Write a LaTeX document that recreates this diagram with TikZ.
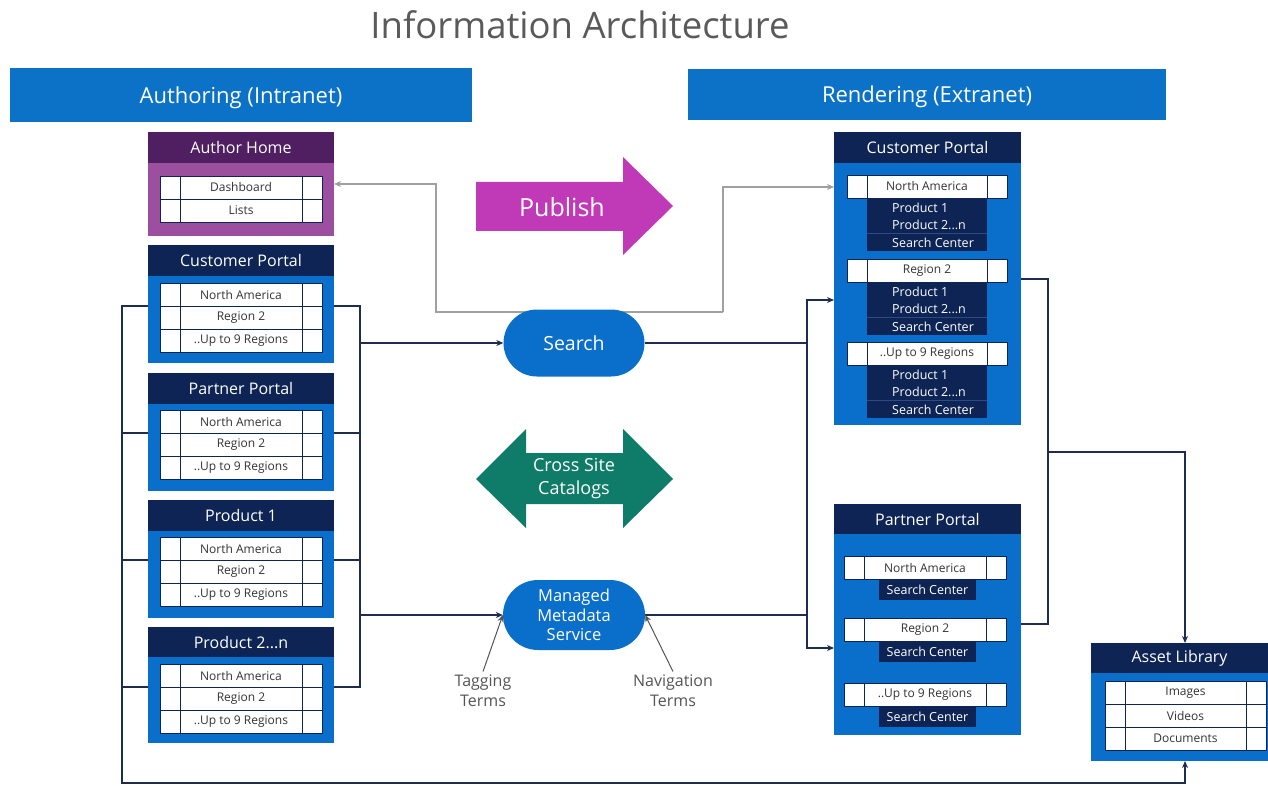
\documentclass[tikz,border=0pt]{standalone}
\usepackage{fontspec}
\setmainfont{Open Sans}
\usetikzlibrary{arrows.meta,shapes.misc,calc}
\definecolor{hdrblue}{HTML}{0B72C7}
\definecolor{boxblue}{HTML}{0A6FCA}
\definecolor{navy}{HTML}{0D2454}
\definecolor{purpleD}{HTML}{4F1F62}
\definecolor{purpleL}{HTML}{9C4E9F}
\definecolor{pubmag}{HTML}{C03AB8}
\definecolor{cstteal}{HTML}{0F7B69}
\definecolor{conncol}{HTML}{1E2D4F}
\definecolor{graycon}{HTML}{A0A0A0}
\definecolor{celltext}{HTML}{333333}
\definecolor{lbltext}{HTML}{555555}
\definecolor{titletext}{HTML}{5A5A5A}
\definecolor{subline}{HTML}{2C4A85}
\tikzset{
  hdr/.style={fill=hdrblue, text=white, inner sep=0, outer sep=0, text height=21pt, text depth=4pt, font=\fontsize{22}{26}\selectfont},
  ttl/.style={fill=navy, text=white, anchor=north west, inner sep=0, outer sep=0, minimum width=186, minimum height=31, font=\fontsize{16}{19}\selectfont},
  bdy/.style={fill=boxblue, anchor=north west, inner sep=0, outer sep=0, minimum width=186},
  cellside/.style={draw=navy, line width=0.9pt, fill=white, minimum width=20, minimum height=23, inner sep=0, outer sep=0, anchor=north west},
  cellmid/.style={cellside, text=celltext, font=\fontsize{12}{14}\selectfont},
  subblk/.style={fill=navy, anchor=north west, inner sep=0, outer sep=0},
  subtxt/.style={text=white, anchor=west, inner sep=0, font=\fontsize{12.5}{15}\selectfont},
  pill/.style={rounded rectangle, fill=boxblue, text=white, inner sep=2pt, align=center},
  conn/.style={draw=conncol, line width=1.1pt},
  gconn/.style={draw=graycon, line width=1.1pt},
  arr/.style={-{Stealth[length=7pt,width=6pt]}},
  lbl/.style={text=lbltext, align=center, font=\fontsize{16}{20}\selectfont},
}
% row of three cells: [middle width]{name}{x}{y}{text}
\newcommand{\IArow}[5][122]{%
  \node[cellside] (#2l) at (#3,#4) {};
  \node[cellmid, minimum width=#1] (#2m) at (#2l.north east) {#5};
  \node[cellside] (#2r) at (#2m.north east) {};
}
\newcommand{\IAsub}[3]{%
  \node[subblk, minimum width=120, minimum height=53] (#1) at (#2,#3) {};
  \node[subtxt] (#1a) at ($(#1.north west)+(25,10)$) {Product 1};
  \node[subtxt] (#1b) at ($(#1.north west)+(25,27)$) {Product 2...n};
  \draw[subline, line width=0.8pt] ($(#1.north west)+(0,35.5)$) -- ($(#1.north east)+(0,35.5)$);
  \node[subtxt] (#1c) at ($(#1.north west)+(25,45)$) {Search Center};
}
\newcommand{\IAsc}[3]{%
  \node[subblk, minimum width=97, minimum height=21, text=white, font=\fontsize{12.5}{15}\selectfont] (#1) at (#2,#3) {Search Center};
}
\begin{document}
\begin{tikzpicture}[x=1pt,y=-1pt]
\useasboundingbox (0,0) rectangle (1268,786);
\fill[white] (0,0) rectangle (1268,786);

% title
\node[text=titletext, font=\fontsize{36.5}{40}\selectfont] (title) at (580,25) {Information Architecture};

% headers
\node[hdr, minimum width=462, minimum height=54] (hdrL) at (241,95) {Authoring (Intranet)};
\node[hdr, minimum width=478, minimum height=51] (hdrR) at (927,94.5) {Rendering (Extranet)};

% ---------- connector coordinates ----------
\coordinate (g1) at (436,184);
\coordinate (g3) at (723,312);
\coordinate (g4) at (723,187);
\coordinate (lx) at (122,783);
\coordinate (rx) at (360,300);
\coordinate (jt) at (807,300);
\coordinate (jb) at (807,648);
\coordinate (ax) at (1048,452);
\coordinate (axx) at (1185,452);

% ---------- left column ----------
% Author Home
\node[ttl, fill=purpleD] (aht) at (148,132) {Author Home};
\node[bdy, fill=purpleL, minimum height=73] (ahb) at (148,163) {};
\IArow{ah1}{160}{176}{Dashboard}
\IArow{ah2}{160}{199}{Lists}

% Customer Portal
\node[ttl] (lcpt) at (148,245) {Customer Portal};
\node[bdy, minimum height=87] (lcpb) at (148,276) {};
\IArow{lcp1}{160}{283}{North America}
\IArow{lcp2}{160}{306}{Region 2}
\IArow{lcp3}{160}{329}{..Up to 9 Regions}

% Partner Portal
\node[ttl] (lppt) at (148,373) {Partner Portal};
\node[bdy, minimum height=87] (lppb) at (148,404) {};
\IArow{lpp1}{160}{410}{North America}
\IArow{lpp2}{160}{433}{Region 2}
\IArow{lpp3}{160}{456}{..Up to 9 Regions}

% Product 1
\node[ttl] (lp1t) at (148,500) {Product 1};
\node[bdy, minimum height=87] (lp1b) at (148,531) {};
\IArow{lpa1}{160}{537}{North America}
\IArow{lpa2}{160}{560}{Region 2}
\IArow{lpa3}{160}{583}{..Up to 9 Regions}

% Product 2...n
\node[ttl] (lp2t) at (148,627) {Product 2...n};
\node[bdy, minimum height=86] (lp2b) at (148,657) {};
\IArow{lpb1}{160}{664}{North America}
\IArow{lpb2}{160}{687}{Region 2}
\IArow{lpb3}{160}{710}{..Up to 9 Regions}

% ---------- right column ----------
% Customer Portal
\node[ttl, minimum width=187] (rcpt) at (834,132) {Customer Portal};
\node[bdy, minimum width=187, minimum height=262] (rcpb) at (834,163) {};
\IArow[120]{rcp1}{847}{175}{North America}
\IAsub{rcps1}{867}{198}
\IArow[120]{rcp2}{847}{259}{Region 2}
\IAsub{rcps2}{867}{282}
\IArow[120]{rcp3}{847}{342}{..Up to 9 Regions}
\IAsub{rcps3}{867}{365}

% Partner Portal
\node[ttl, minimum width=187, minimum height=30] (rppt) at (834,504) {Partner Portal};
\node[bdy, minimum width=187, minimum height=201] (rppb) at (834,534) {};
\IArow{rpp1}{844}{556}{North America}
\IAsc{rpps1}{879}{579}
\IArow{rpp2}{844}{618}{Region 2}
\IAsc{rpps2}{879}{641}
\IArow{rpp3}{844}{683}{..Up to 9 Regions}
\IAsc{rpps3}{879}{706}

% Asset Library
\node[ttl, minimum width=177, minimum height=30] (alt) at (1091,643) {Asset Library};
\node[bdy, minimum width=177, minimum height=88] (alb) at (1091,673) {};
\IArow[121]{al1}{1105}{681}{Images}
\IArow[121]{al2}{1105}{704}{Videos}
\IArow[121]{al3}{1105}{727}{Documents}

% ---------- gray publish path ----------
\draw[gconn, arr] (g3) -- (g3 -| g1) -- (g1) -- (g1 -| ahb.east);
\draw[gconn, arr] (g3) -- (g4) -- (g4 -| rcpb.west);

% ---------- middle shapes ----------
\fill[pubmag] (476,182) -- (623,182) -- (623,157) -- (673,206) -- (623,255) -- (623,231) -- (476,231) -- cycle;
\node[text=white, font=\fontsize{25}{30}\selectfont] (pub) at (562,207) {Publish};

\fill[cstteal] (476,479) -- (526,429) -- (526,453) -- (623,453) -- (623,429) -- (673,479) -- (623,528) -- (623,504) -- (526,504) -- (526,528) -- cycle;
\node[text=white, align=center, font=\fontsize{18}{23}\selectfont] (csc) at (574,479) {Cross Site\\Catalogs};

\node[pill, minimum width=145, minimum height=67, font=\fontsize{19.5}{23}\selectfont] (search) at (574,343) {Search};
\node[pill, minimum width=146, minimum height=70, font=\fontsize{16.5}{19.5}\selectfont] (mms) at (574,615) {Managed\\Metadata\\Service};

\node[lbl] (tag) at (483,691) {Tagging\\Terms};
\node[lbl] (nav) at (673,691) {Navigation\\Terms};

% ---------- dark connectors ----------
% left bracket to asset library
\draw[conn, arr] (lcpb.west |- lcp1l.south) -- (lcp1l.south -| lx) -- (lx) -- (lx -| axx) -- (axx |- alb.south);
\draw[conn] (lppb.west |- lpp1l.south) -- (lpp1l.south -| lx);
\draw[conn] (lp1b.west |- lpa1l.south) -- (lpa1l.south -| lx);
\draw[conn] (lp2b.west |- lpb1l.south) -- (lpb1l.south -| lx);

% right bracket
\draw[conn] (lcpb.east |- lcp1l.south) -- (lcp1l.south -| rx) -- (lpb1l.south -| rx) -- (lp2b.east |- lpb1l.south);
\draw[conn] (lppb.east |- lpp1l.south) -- (lpp1l.south -| rx);
\draw[conn] (lp1b.east |- lpa1l.south) -- (lpa1l.south -| rx);
\draw[conn, arr] (search.west -| rx) -- (search.west);
\draw[conn, arr] (mms.west -| rx) -- (mms.west);

% search / mms to rendering
\draw[conn] (search.east) -- (search.east -| jt);
\draw[conn] (mms.east) -- (mms.east -| jt);
\draw[conn, {Stealth[length=7pt,width=6pt]}-{Stealth[length=7pt,width=6pt]}] (jt -| rcpb.west) -- (jt) -- (jb) -- (jb -| rppb.west);

% rendering to asset library
\draw[conn] ([yshift=3pt]rcpb.east |- rcp2l.south) -- ([yshift=3pt]rcp2l.south -| ax) -- ([yshift=-6pt]rpp2l.north -| ax) -- ([yshift=-6pt]rppb.east |- rpp2l.north);
\draw[conn, arr] (ax) -- (axx) -- (axx |- alt.north);

% term arrows
\draw[draw=lbltext, line width=1pt, arr] (tag.north) -- (mms.west);
\draw[draw=lbltext, line width=1pt, arr] (nav.north) -- (mms.east);
\end{tikzpicture}
\end{document}
